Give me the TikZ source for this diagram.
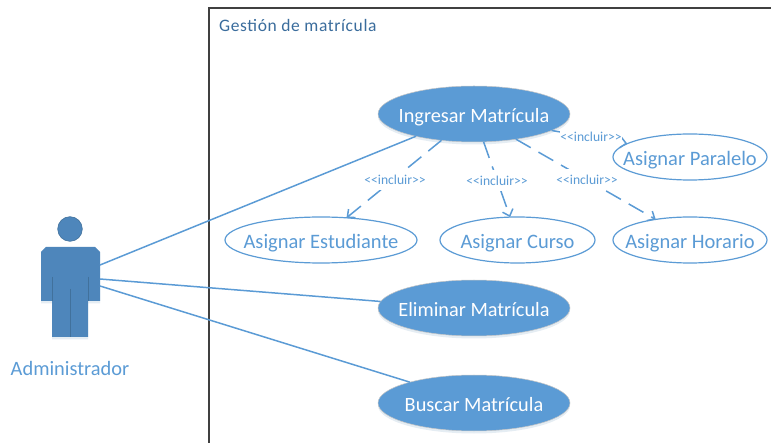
\documentclass[tikz,border=0pt]{standalone}
\usepackage{fontspec}
\setmainfont{Carlito}
\usetikzlibrary{shapes.geometric,arrows.meta,shadows}
\definecolor{ucblue}{HTML}{5B9BD5}
\definecolor{actorfill}{HTML}{4E86BB}
\definecolor{actoredge}{HTML}{41719C}
\definecolor{frametext}{HTML}{3A6C9C}
\definecolor{framedark}{HTML}{404040}
\tikzset{
  softshadow/.style={drop shadow={shadow xshift=0pt,shadow yshift=-2.5pt,opacity=.14,fill=ucblue!80!black}},
  usefilled/.style={ellipse,fill=ucblue,draw=gray!45,line width=.5pt,softshadow,inner sep=0pt,outer sep=0pt,
    minimum width=192pt,minimum height=56pt,text=white,text height=16.5pt,text depth=0pt,font=\fontsize{20.3}{22}\selectfont},
  useplain/.style={ellipse,fill=white,draw=ucblue,line width=1.2pt,inner sep=0pt,outer sep=0pt,
    minimum height=46pt,text=ucblue,text height=17pt,text depth=0pt,font=\fontsize{20.5}{22}\selectfont},
  assoc/.style={draw=ucblue,line width=1.5pt},
  includes/.style={draw=ucblue,line width=1.5pt,dash pattern=on 17pt off 9pt,-{Straight Barb[length=6pt,width=11pt]}},
  inclabel/.style={fill=white,inner sep=.5pt,minimum height=21pt,text=ucblue,font=\fontsize{13.6}{15}\selectfont},
  actorshape/.style={fill=actorfill,draw=none,softshadow},
  actorseam/.style={draw=actoredge,line width=.9pt}
}
\newcommand{\ctext}[1]{\makebox[0pt]{#1}}
\newcommand{\incl}{<{}<incluir>{}>}
\begin{document}
\begin{tikzpicture}[x=1pt,y=-1pt]
\useasboundingbox (0,0) rectangle (771,443);
% frame
\draw[framedark,line width=1.5pt] (209,443) |- (771,8);
\node[anchor=base west,inner sep=0pt,text=frametext,font=\fontsize{17.5}{20}\selectfont\addfontfeature{LetterSpace=3.5}] (title) at (219,32) {Gestión de matrícula};
% actor
\fill[actorshape] (46,247) -- (95,247) -- (100,252) -- (100,301) -- (88,301) -- (88,337) -- (52,337) -- (52,301) -- (41,301) -- (41,252) -- cycle;
\draw[actorseam] (52,277) -- (52,301) (88,277) -- (88,301) (70,289) -- (70,337);
\draw[draw=actoredge,fill=actorfill,line width=.6pt] (70,229) circle (12.3);
\node[inner sep=0pt,text=ucblue,font=\fontsize{20.4}{22}\selectfont] (adminlabel) at (70,368.5) {Administrador};
\coordinate (actorA) at (100,265);
\coordinate (actorB) at (100,279);
\coordinate (actorC) at (100,286);
% use cases
\node[usefilled] (ingresar) at (474,114) {\ctext{Ingresar Matrícula}};
\node[usefilled] (eliminar) at (474,308) {\ctext{Eliminar Matrícula}};
\node[usefilled] (buscar) at (474,403) {\ctext{Buscar Matrícula}};
\node[useplain,minimum width=192pt] (estudiante) at (321,240) {\ctext{Asignar Estudiante}};
\node[useplain,minimum width=155pt] (curso) at (517.5,240) {\ctext{Asignar Curso}};
\node[useplain,minimum width=154pt] (horario) at (690,240) {\ctext{Asignar Horario}};
\node[useplain,minimum width=154pt] (paralelo) at (690,157) {\ctext{Asignar Paralelo}};
% associations
\draw[assoc] (actorA) -- (ingresar.201.6);
\draw[assoc] (actorB) -- (eliminar.176.5);
\draw[assoc] (actorC) -- (buscar.162.4);
% includes
\draw[includes] (ingresar.219) -- (estudiante.41);
\draw[includes] (ingresar.289.8) -- (curso.108);
\draw[includes] (ingresar.329.8) -- (horario.149.6);
\draw[includes] (ingresar.348) -- (paralelo.168);
\node[inclabel] (incA) at (395,180) {\incl};
\node[inclabel] (incB) at (497,180.5) {\incl};
\node[inclabel] (incC) at (587,180) {\incl};
\node[inclabel,minimum height=14pt] (incD) at (591,137) {\incl};
\end{tikzpicture}
\end{document}
